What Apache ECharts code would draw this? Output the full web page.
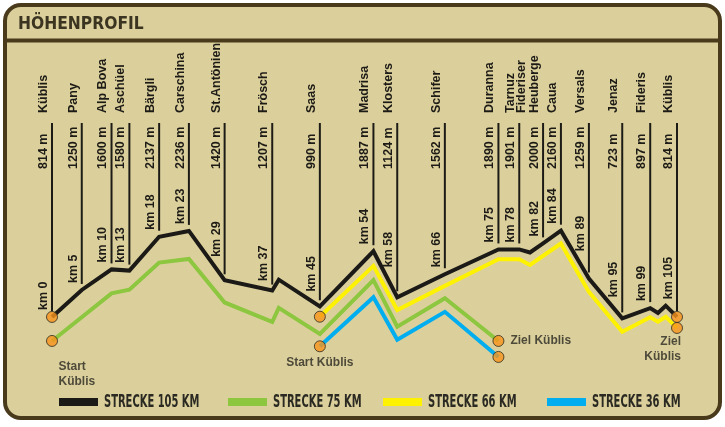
<!DOCTYPE html>
<html>
<head>
<meta charset="utf-8">
<script src="https://cdn.jsdelivr.net/npm/echarts@6/dist/echarts.min.js"></script>
<style>
html, body { margin: 0; padding: 0; background: #fff; }
#chart { width: 725px; height: 427px; }
</style>
</head>
<body>
<div id="chart"></div>
<script>
// stations along the 105 km route
const stationNames = ['Küblis', 'Pany', 'Alp Bova', 'Aschüel', 'Bärgli', 'Carschina', 'St.Antönien', 'Frösch', 'Saas',
    'Madrisa', 'Klosters', 'Schifer', 'Duranna', 'Tarnuz', 'Fideriser\nHeuberge', 'Caua', 'Versals', 'Jenaz', 'Fideris', 'Küblis'];
const stationKm = [0, 5, 10, 13, 18, 23, 29, 37, 45, 54, 58, 66, 75, 78, 82, 84, 89, 95, 99, 105];
const stationHeight = [814, 1250, 1600, 1580, 2137, 2236, 1420, 1207, 990, 1887, 1124, 1562, 1890, 1901, 2000, 2160, 1259, 723, 897, 814];
// where each station sits along the drawn profile (km scale, schematic)
const stationPos = [0, 5, 10, 13, 18, 23, 29, 37, 45, 54, 58, 66, 75, 78.5, 82.5, 85.5, 90.2, 95.8, 100.5, 105];

// profile lines as drawn, [position, m]
const route105 = [[0, 814], [5, 1260], [10, 1600], [13, 1580], [18, 2140], [23, 2236], [29, 1420], [37, 1250], [38.1, 1430],
    [45, 990], [54, 1900], [58, 1140], [66, 1520], [75, 1930], [78.5, 1930], [80.3, 1880], [82.5, 2030], [85.5, 2240],
    [90.2, 1450], [95.8, 790], [100.5, 960], [101.8, 880], [103.1, 1000], [105, 814]];
const route75 = [[0, 814], [10, 1600], [13, 1660], [18, 2110], [23, 2170], [29, 1450], [37, 1130], [38.1, 1360], [45, 930],
    [54, 1820], [58, 1050], [66, 1520], [75, 814]];
const route66 = [[45, 1000], [54, 1840], [58, 1110], [66, 1510], [75, 1950], [78.5, 1950], [80.3, 1855], [85.5, 2210],
    [90.2, 1410], [95.8, 750], [100.5, 990], [101.8, 918], [103.1, 1000], [105, 814]];
const route36 = [[45, 990], [54, 1800], [58, 1100], [66, 1560], [75, 814]];

const routeNames = ['STRECKE 105 KM', 'STRECKE 75 KM', 'STRECKE 66 KM', 'STRECKE 36 KM'];
const routeColors = ['#1c1a17', '#8dc63f', '#fff200', '#00aeef'];

const ink = '#1d1b16';
const frame = '#4a3a1c';
const paper = '#dbd09c';
const condensed = '"DejaVu Sans Condensed", "Liberation Sans Narrow", sans-serif';

const gridTops = [221, 245, 232, 261];
const routes = [route105, route75, route66, route36];
const legendX = [59, 228, 383, 547];

// height of the main line at any position (linear between its points)
const elevAt = (route, pos) => {
    if (pos <= route[0][0]) return route[0][1];
    for (let j = 1; j < route.length; j++) {
        const a = route[j - 1], b = route[j];
        if (pos <= b[0]) return a[1] + (b[1] - a[1]) * (pos - a[0]) / (b[0] - a[0]);
    }
    return route[route.length - 1][1];
};

const dotLabel = (text, extra) => Object.assign({
    show: true, formatter: text, color: '#2a2822', fontFamily: 'Liberation Sans',
    fontWeight: 'bold', fontSize: 12, lineHeight: 15
}, extra);

const dotData = [
    [{value: route105[0]}, {value: route105[route105.length - 1]}],
    [{value: route75[0], label: dotLabel('Start\nKüblis', {position: [12.5, 24], align: 'left', verticalAlign: 'top'})},
     {value: route75[route75.length - 1], label: dotLabel('Ziel Küblis', {position: 'right', distance: 6})}],
    [{value: route66[0]},
     {value: route66[route66.length - 1], label: dotLabel('Ziel\nKüblis', {position: [10, 12], align: 'right', verticalAlign: 'top'})}],
    [{value: route36[0], label: dotLabel('Start Küblis', {position: 'bottom', distance: 3})},
     {value: route36[route36.length - 1]}]
];

const myChart = echarts.init(document.getElementById('chart'));

const stationText = (s, x, y) => ({
    type: 'text', x: x, y: y, rotation: Math.PI / 2,
    style: {
        text: s, fill: ink, fontSize: 12.5, fontWeight: 'bold', fontFamily: 'Liberation Sans', lineHeight: 13,
        textAlign: 'left', textVerticalAlign: 'bottom', align: 'left', verticalAlign: 'bottom'
    }
});

const series = [];
series.push({
    type: 'custom',
    coordinateSystem: 'cartesian2d',
    xAxisIndex: 0, yAxisIndex: 0,
    silent: true, clip: false, z: 1,
    data: stationPos.map(p => [p, elevAt(route105, p)]),
    renderItem: function (params, api) {
        const i = params.dataIndex;
        const pos = api.value(0);
        const pt = api.coord([pos, api.value(1)]);
        const x = pt[0];
        const yEnd = pt[1] - 6;
        // keep the km caption clear of the line just left of the post
        const left = api.coord([Math.max(pos - 2, 0), elevAt(route105, Math.max(pos - 2, 0))]);
        const kmY = Math.min(pt[1], left[1]) - 7;
        return {
            type: 'group',
            children: [
                {type: 'line', shape: {x1: x, y1: 123, x2: x, y2: yEnd}, style: {stroke: ink, lineWidth: 2}},
                stationText(stationNames[i], x - 2, 113),
                stationText(stationHeight[i] + ' m', x - 2, 169),
                stationText('km ' + stationKm[i], x - 2, kmY)
            ]
        };
    }
});
routes.forEach((r, k) => {
    series.push({
        name: routeNames[k], type: 'line', xAxisIndex: k, yAxisIndex: k,
        data: r, symbol: 'none', z: 3,
        itemStyle: {color: routeColors[k]},
        lineStyle: {color: routeColors[k], width: 4, join: 'miter'}
    });
    series.push({
        type: 'scatter', xAxisIndex: k, yAxisIndex: k, silent: true, z: 5,
        data: dotData[k], symbolSize: 11,
        itemStyle: {color: '#f7941d', borderColor: '#2e2a1e', borderWidth: 1}
    });
});

// legend keys: colour bar + squeezed caption, as in the print
const legendGraphics = [];
routeNames.forEach((n, k) => {
    legendGraphics.push({type: 'rect', shape: {x: legendX[k], y: 398, width: 39, height: 8}, style: {fill: routeColors[k]}});
    legendGraphics.push({type: 'text', x: legendX[k] + 45, y: 403, scaleX: 0.65,
        style: {text: n, fill: '#2b2a22', fontSize: 17, fontWeight: 'bold', fontFamily: condensed,
            textVerticalAlign: 'middle', verticalAlign: 'middle'}});
});

myChart.setOption({
    backgroundColor: '#fff',
    animation: false,
    graphic: [
        {type: 'rect', shape: {x: 5, y: 5, width: 715, height: 413, r: 16}, style: {fill: paper, stroke: frame, lineWidth: 4}, z: -10},
        {type: 'line', shape: {x1: 5, y1: 40.5, x2: 720, y2: 40.5}, style: {stroke: frame, lineWidth: 4}, z: -9},
        {type: 'text', x: 18, y: 24, scaleX: 0.96, style: {text: 'HÖHENPROFIL', fill: '#3b3420', fontSize: 18, fontWeight: 'bold',
            fontFamily: condensed, textVerticalAlign: 'middle', verticalAlign: 'middle'}}
    ].concat(legendGraphics),
    grid: gridTops.map(t => ({left: 52, width: 625, top: t, height: 121})),
    xAxis: gridTops.map((t, k) => ({type: 'value', gridIndex: k, min: 0, max: 105, show: false})),
    yAxis: gridTops.map((t, k) => ({type: 'value', gridIndex: k, min: 400, max: 2400, show: false})),
    series: series
});

window.addEventListener('resize', () => {
    myChart.resize();
});
</script>
</body>
</html>
